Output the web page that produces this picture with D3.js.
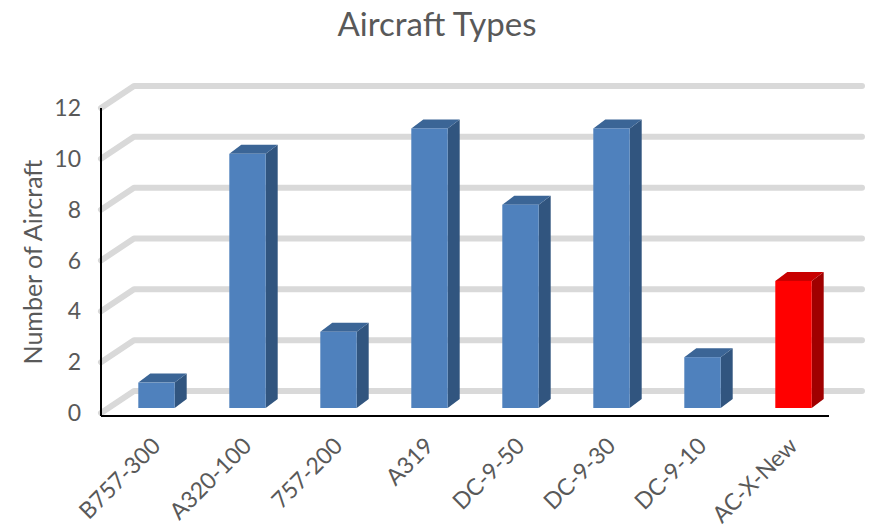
<!DOCTYPE html>
<html>
<head>
<meta charset="utf-8">
<script src="https://cdn.jsdelivr.net/npm/d3@7"></script>
<style>
  body { margin: 0; background: #fff; }
  svg { font-family: Lato, "Open Sans", sans-serif; }
  .tick-label { fill: #595959; font-size: 23px; }
</style>
</head>
<body>
<script>
const categories = ['B757-300', 'A320-100', '757-200', 'A319', 'DC-9-50', 'DC-9-30', 'DC-9-10', 'AC-X-New'];
const counts = [1, 10, 3, 11, 8, 11, 2, 5];
const yTicks = [0, 2, 4, 6, 8, 10, 12];
const highlight = 'AC-X-New';

const width = 869, height = 528;
// depth offsets for the fake 3D box
const back = { dx: 33, dy: -22 };
const barPlane = { dx: 7, dy: -5 };
const barDepth = { dx: 12, dy: -9 };

const svg = d3.select('body').append('svg')
    .attr('width', width)
    .attr('height', height);

const x = d3.scaleBand().domain(categories).range([101, 829]).paddingInner(0.6).paddingOuter(0.3);
const y = d3.scaleLinear().domain([0, 12]).range([413, 108]);

// title
svg.append('text')
    .attr('x', 437).attr('y', 36)
    .attr('text-anchor', 'middle')
    .attr('fill', '#595959')
    .style('font-size', '33px')
    .text('Aircraft Types');

// y axis title
svg.append('text')
    .attr('transform', 'translate(42,262) rotate(-90)')
    .attr('text-anchor', 'middle')
    .attr('fill', '#595959')
    .style('font-size', '25px')
    .text('Number of Aircraft');

// gridlines: front corner -> back wall -> right end
const grid = svg.append('g').attr('class', 'grid');
grid.selectAll('path')
    .data(yTicks)
    .enter().append('path')
    .attr('d', d => `M101,${y(d)} L${101 + back.dx},${y(d) + back.dy} L862,${y(d) + back.dy}`)
    .attr('fill', 'none')
    .attr('stroke', '#d9d9d9')
    .attr('stroke-width', 6)
    .attr('stroke-linecap', 'round')
    .attr('stroke-linejoin', 'round');

// bars
const colors = d => d.cat === highlight
    ? { front: '#ff0000', side: '#a00000', top: '#c80000' }
    : { front: '#4f81bd', side: '#31557f', top: '#3b6596' };

const data = categories.map((c, i) => ({ cat: c, value: counts[i] }));
const bars = svg.append('g').attr('class', 'bars')
    .selectAll('g').data(data).enter().append('g');

const bw = x.bandwidth();
const bx = d => x(d.cat) + barPlane.dx + 3;
const by0 = y(0) + barPlane.dy;
const by = d => y(d.value) + barPlane.dy;

bars.append('path')
    .attr('d', d => `M${bx(d) + bw},${by0} L${bx(d) + bw + barDepth.dx},${by0 + barDepth.dy} L${bx(d) + bw + barDepth.dx},${by(d) + barDepth.dy} L${bx(d) + bw},${by(d)} Z`)
    .attr('fill', d => colors(d).side);

bars.append('path')
    .attr('d', d => `M${bx(d)},${by(d)} L${bx(d) + barDepth.dx},${by(d) + barDepth.dy} L${bx(d) + bw + barDepth.dx},${by(d) + barDepth.dy} L${bx(d) + bw},${by(d)} Z`)
    .attr('fill', d => colors(d).top);

bars.append('rect')
    .attr('x', d => bx(d))
    .attr('y', d => by(d))
    .attr('width', bw)
    .attr('height', d => by0 - by(d))
    .attr('fill', d => colors(d).front);

// axes lines
svg.append('line')
    .attr('x1', 101).attr('x2', 101)
    .attr('y1', y(12)).attr('y2', 416)
    .attr('stroke', '#000').attr('stroke-width', 2);
svg.append('line')
    .attr('x1', 101).attr('x2', 829)
    .attr('y1', 416).attr('y2', 416)
    .attr('stroke', '#000').attr('stroke-width', 2);

// y tick labels
svg.append('g').selectAll('text')
    .data(yTicks)
    .enter().append('text')
    .attr('class', 'tick-label')
    .attr('x', 81)
    .attr('y', d => y(d))
    .attr('dy', '0.35em')
    .attr('text-anchor', 'end')
    .text(d => d);

// x tick labels
svg.append('g').selectAll('text')
    .data(categories)
    .enter().append('text')
    .attr('class', 'tick-label')
    .attr('transform', d => `translate(${x(d) + bw / 2 + 4},436) rotate(-45)`)
    .attr('dy', '0.7em')
    .attr('text-anchor', 'end')
    .text(d => d);
</script>
</body>
</html>
